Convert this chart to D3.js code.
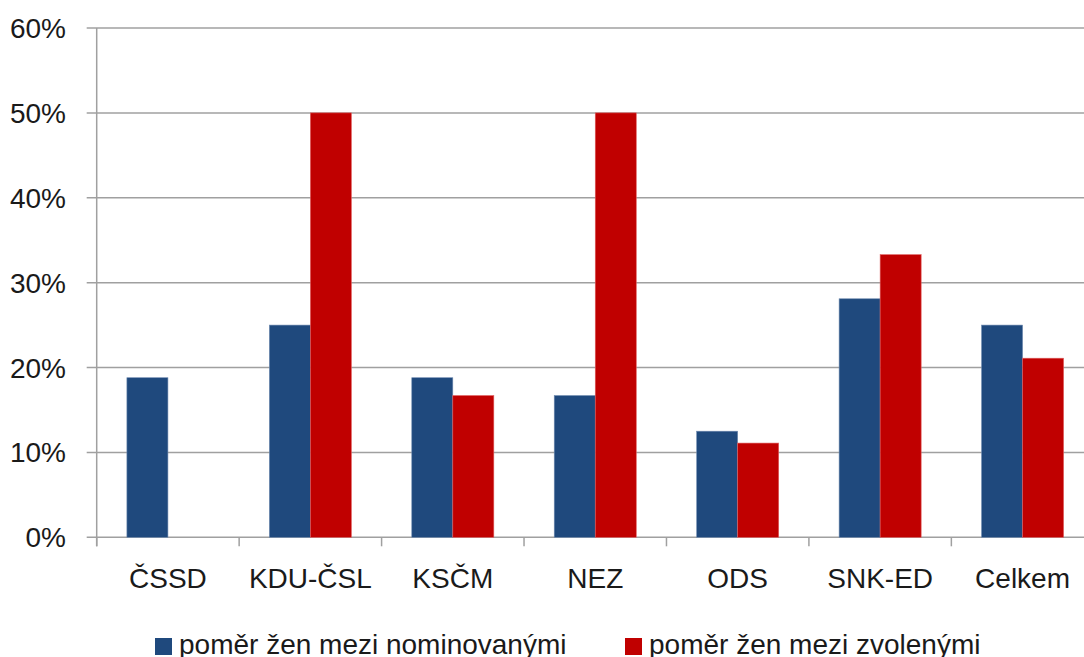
<!DOCTYPE html>
<html>
<head>
<meta charset="utf-8">
<script src="https://cdnjs.cloudflare.com/ajax/libs/d3/7.8.5/d3.min.js"></script>
<style>
    body { margin: 0; background: #fff; }
    svg { display: block; font-family: "Liberation Sans", Arial, sans-serif; }
</style>
</head>
<body>
<div id="chart"></div>
<script>
// strany
const kategorie = ["ČSSD", "KDU-ČSL", "KSČM", "NEZ", "ODS", "SNK-ED", "Celkem"];
// podíl žen v %
const nominovane = [18.8, 25.0, 18.8, 16.7, 12.5, 28.1, 25.0];
const zvolene = [0, 50.0, 16.7, 50.0, 11.1, 33.3, 21.1];
const serie = ["poměr žen mezi nominovanými", "poměr žen mezi zvolenými"];
const barvy = ["#1F497D", "#C00000"];
const yTicks = [0, 10, 20, 30, 40, 50, 60];

function graficar() {
    const width = 1084;
    const height = 657;
    const left = 96.7, right = 1093.8;
    const top = 28, bottom = 537.3;

    const svg = d3.select("#chart")
        .append("svg")
        .attr("width", width)
        .attr("height", height);

    const x0 = d3.scaleBand()
        .domain(kategorie)
        .range([left, right]);

    const gap = 30.2;
    const x1 = d3.scaleBand()
        .domain([0, 1])
        .range([gap, x0.bandwidth() - gap]);

    const y = d3.scaleLinear()
        .domain([0, 60])
        .range([bottom, top]);

    // mřížka
    svg.append("g")
        .selectAll("line")
        .data(yTicks)
        .enter()
        .append("line")
        .attr("x1", left - 10)
        .attr("x2", right)
        .attr("y1", d => y(d))
        .attr("y2", d => y(d))
        .attr("stroke", "#a0a0a0")
        .attr("stroke-width", 1.5);

    // osa Y
    svg.append("line")
        .attr("x1", left).attr("x2", left)
        .attr("y1", top).attr("y2", bottom + 9)
        .attr("stroke", "#a0a0a0")
        .attr("stroke-width", 1.5);

    // tick marks osa X
    svg.append("g")
        .selectAll("line")
        .data(kategorie.concat(["end"]))
        .enter()
        .append("line")
        .attr("x1", (d, i) => left + i * x0.bandwidth())
        .attr("x2", (d, i) => left + i * x0.bandwidth())
        .attr("y1", bottom)
        .attr("y2", bottom + 9)
        .attr("stroke", "#a0a0a0")
        .attr("stroke-width", 1.5);

    // popisky osy Y
    svg.append("g")
        .selectAll("text")
        .data(yTicks)
        .enter()
        .append("text")
        .attr("x", 66)
        .attr("y", d => y(d))
        .attr("dy", "0.36em")
        .attr("text-anchor", "end")
        .attr("fill", "#1a1a1a")
        .style("font-size", "28px")
        .text(d => d + "%");

    // sloupce
    const data = [nominovane, zvolene];
    data.forEach((hodnoty, s) => {
        const body = hodnoty
            .map((v, i) => ({ kat: kategorie[i], v: v }))
            .filter(d => d.v > 0);
        svg.append("g")
            .selectAll("rect")
            .data(body)
            .enter()
            .append("rect")
            .attr("x", d => x0(d.kat) + x1(s))
            .attr("y", d => y(d.v))
            .attr("width", x1.bandwidth())
            .attr("height", d => y(0) - y(d.v))
            .attr("fill", barvy[s])
            .attr("stroke", s === 0 ? "#6f8bb0" : "#e06060")
            .attr("stroke-width", 0.6);
    });

    // popisky kategorií
    svg.append("g")
        .selectAll("text")
        .data(kategorie)
        .enter()
        .append("text")
        .attr("x", d => x0(d) + x0.bandwidth() / 2)
        .attr("y", 588)
        .attr("text-anchor", "middle")
        .attr("fill", "#1a1a1a")
        .style("font-size", "28px")
        .text(d => d);

    // legenda
    const legendX = [155, 625];
    const leg = svg.append("g")
        .selectAll("g")
        .data(serie)
        .enter()
        .append("g")
        .attr("transform", (d, i) => `translate(${legendX[i]},0)`);

    leg.append("rect")
        .attr("x", 0)
        .attr("y", 638)
        .attr("width", 17)
        .attr("height", 17)
        .attr("fill", (d, i) => barvy[i]);

    leg.append("text")
        .attr("x", 24)
        .attr("y", 654)
        .attr("fill", "#1a1a1a")
        .style("font-size", "28px")
        .text(d => d);
}

graficar();
</script>
</body>
</html>
